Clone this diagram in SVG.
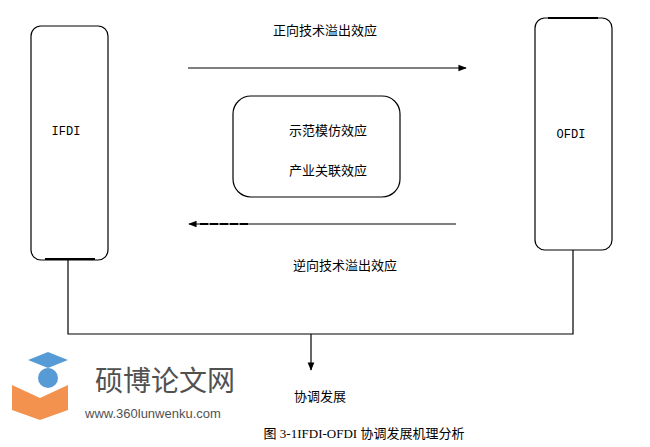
<svg xmlns="http://www.w3.org/2000/svg" width="650" height="447" viewBox="0 0 650 447">
<style>
.box{fill:#fff;stroke:#000;stroke-width:1.2}
.ln{stroke:#000;stroke-width:1.2;fill:none}
.t{font-family:"Noto Sans CJK SC",sans-serif;font-size:13px;fill:#000}
.m{font-family:"Liberation Mono","Noto Sans CJK SC",monospace;font-size:12px;fill:#000}
</style>
<defs>
<marker id="ah" viewBox="0 0 10 10" refX="9" refY="5" markerWidth="7" markerHeight="7" orient="auto"><path d="M0,1 L10,5 L0,9 z" fill="#000"/></marker>
</defs>
<rect width="650" height="447" fill="#fff"/>
<g id="ifdi"><rect class="box" x="31" y="26" width="77" height="234" rx="10"/><line x1="45" y1="259" x2="95" y2="259" stroke="#000" stroke-width="2"/><text class="m" x="66" y="135" text-anchor="middle">IFDI</text></g>
<g id="ofdi"><rect class="box" x="535" y="18" width="77" height="232" rx="10"/><line x1="548" y1="18" x2="598" y2="18" stroke="#000" stroke-width="2"/><text class="m" x="571" y="138" text-anchor="middle">OFDI</text></g>
<g id="center"><rect class="box" x="233" y="96" width="167" height="101" rx="18"/><text class="t" x="328" y="135" text-anchor="middle">示范模仿效应</text><text class="t" x="328" y="175" text-anchor="middle">产业关联效应</text></g>
<g id="connectors">
<line class="ln" x1="188" y1="68" x2="466" y2="68" marker-end="url(#ah)"/>
<line class="ln" x1="456" y1="224" x2="189" y2="224" marker-end="url(#ah)"/>
<line x1="200" y1="224" x2="250" y2="224" stroke="#000" stroke-width="2" stroke-dasharray="8,2"/>
<polyline class="ln" points="68,260 68,334 573,334 573,250"/>
<line class="ln" x1="311" y1="334" x2="311" y2="370" marker-end="url(#ah)"/>
</g>
<g id="labels">
<text class="t" x="325" y="35" text-anchor="middle">正向技术溢出效应</text>
<text class="t" x="345" y="270" text-anchor="middle">逆向技术溢出效应</text>
<text class="t" x="320" y="401" text-anchor="middle">协调发展</text>
<text x="364" y="438" text-anchor="middle" font-family="Liberation Serif,'Noto Sans CJK SC',serif" font-size="13">图 3-1IFDI-OFDI 协调发展机理分析</text>
</g>
<g id="watermark" opacity="0.85">
<path d="M12,385 L40,398 L68,385 L68,410 L40,420 L12,410 z" fill="#f08030"/>
<path d="M28,360 L48,352 L68,360 L48,368 z" fill="#3a8ad0"/>
<circle cx="48" cy="378" r="10" fill="#3a8ad0"/>
<text x="95" y="391" font-family="Noto Sans CJK SC,sans-serif" font-size="28" fill="#333">硕博论文网</text>
<text x="85" y="418" font-family="Liberation Sans,sans-serif" font-size="13" fill="#333">www.360lunwenku.com</text>
</g>
</svg>
